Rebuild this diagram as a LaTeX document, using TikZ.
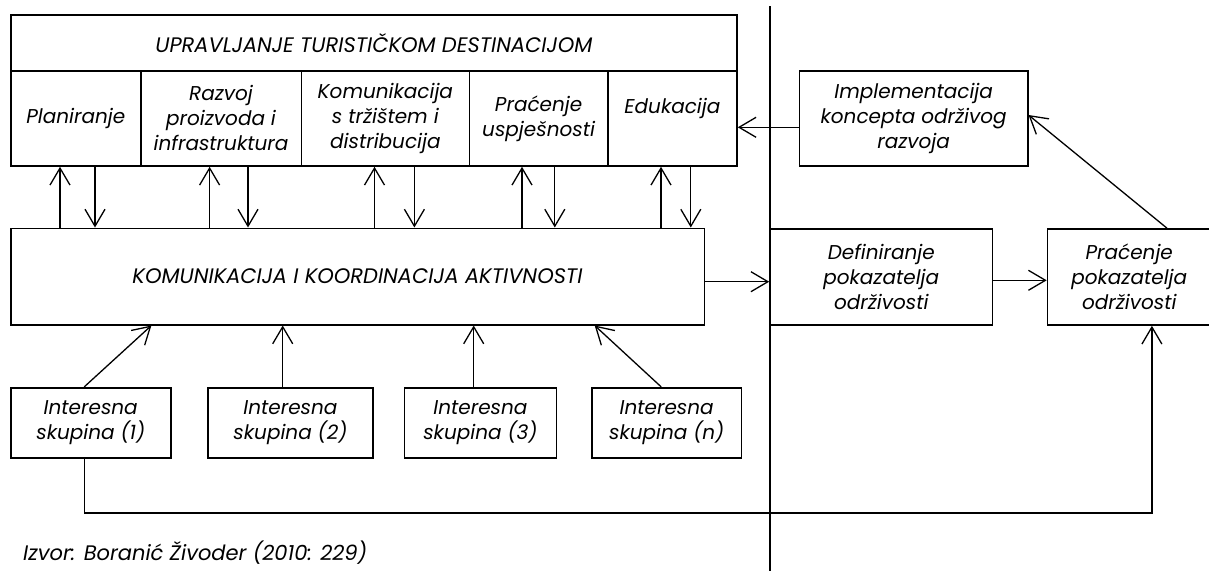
\documentclass[tikz,border=0pt]{standalone}
\usepackage{fontspec}
\setmainfont{Poppins}
\usetikzlibrary{arrows.meta}
\begin{document}
\begin{tikzpicture}[x=1pt,y=-1pt,
  txt/.style={font=\itshape\fontsize{20}{25}\selectfont},
  capstxt/.style={font=\itshape\fontsize{21}{25}\selectfont},
  box/.style={draw, line width=1.6pt, inner sep=0pt, align=center, txt},
  arr/.style={line width=1.3pt, -{Straight Barb[length=17pt,width=20pt,line width=1.3pt]}},
  rule/.style={line width=1.6pt}]
\useasboundingbox (0,0) rectangle (1209,570);
% top block
\node[box, capstxt, minimum width=726.3pt, minimum height=55.7pt] (title) at (373.85,42.85) {UPRAVLJANJE TURISTIČKOM DESTINACIJOM};
\node[box, minimum width=130.1pt, minimum height=95.3pt] (plan) at (75.75,118.35) {Planiranje};
\node[box, minimum width=160.5pt, minimum height=95.3pt] (razv) at (221.05,118.35) {Razvoj\\proizvoda i\\infrastruktura};
\node[box, minimum width=168.1pt, minimum height=95.3pt] (komt) at (385.35,118.35) {Komunikacija\\s tržištem i\\distribucija};
\node[box, minimum width=138.4pt, minimum height=95.3pt] (prac) at (538.6,118.35) {Praćenje\\uspješnosti};
\node[box, minimum width=129.2pt, minimum height=95.3pt] (edu) at (672.4,118.35) {Edukacija\\\mbox{}};
% middle
\node[box, capstxt, minimum width=693.6pt, minimum height=96.4pt] (mid) at (357.5,276.5) {KOMUNIKACIJA I KOORDINACIJA AKTIVNOSTI};
% right side
\node[box, minimum width=228.1pt, minimum height=95.3pt] (impl) at (913.65,118.35) {Implementacija\\koncepta održivog\\razvoja};
\node[box, minimum width=222.5pt, minimum height=96pt] (def) at (881.25,277) {Definiranje\\pokazatelja\\održivosti};
\node[box, minimum width=163.5pt, minimum height=96pt] (pracp) at (1129.25,277) {Praćenje\\pokazatelja\\održivosti};
% interest groups
\node[box, minimum width=160.1pt, minimum height=70.3pt] (is1) at (90.75,422.85) {Interesna\\skupina (1)};
\node[box, minimum width=164.9pt, minimum height=70.3pt] (is2) at (290.45,422.85) {Interesna\\skupina (2)};
\node[box, minimum width=151.8pt, minimum height=70.3pt] (is3) at (480.4,422.85) {Interesna\\skupina (3)};
\node[box, minimum width=149.4pt, minimum height=70.3pt] (isn) at (666.7,422.85) {Interesna\\skupina (n)};
% divider line
\coordinate (vtop) at (770,6);
\coordinate (vbot) at (770,575);
\draw[rule] (vtop) -- (vbot);
% arrows top <-> middle
\draw[arr] (mid.north -| 60,0) -- (plan.south -| 60,0);
\draw[arr] (plan.south -| 95,0) -- (mid.north -| 95,0);
\draw[arr] (mid.north -| 209.6,0) -- (razv.south -| 209.6,0);
\draw[arr] (razv.south -| 248,0) -- (mid.north -| 248,0);
\draw[arr] (mid.north -| 374.5,0) -- (komt.south -| 374.5,0);
\draw[arr] (komt.south -| 414.4,0) -- (mid.north -| 414.4,0);
\draw[arr] (mid.north -| 522,0) -- (prac.south -| 522,0);
\draw[arr] (prac.south -| 554.8,0) -- (mid.north -| 554.8,0);
\draw[arr] (mid.north -| 661,0) -- (edu.south -| 661,0);
\draw[arr] (edu.south -| 690.8,0) -- (mid.north -| 690.8,0);
% interest groups -> middle
\draw[arr] (is1.north -| 84.2,0) -- (mid.south -| 151.4,0);
\draw[arr] (is2.north -| 282.7,0) -- (mid.south -| 282.7,0);
\draw[arr] (is3.north -| 473.7,0) -- (mid.south -| 473.7,0);
\draw[arr] (isn.north -| 661.2,0) -- (mid.south -| 594.7,0);
% right flow
\draw[arr] (mid.east |- 0,281.7) -- (def.west |- 0,281.7);
\draw[arr] (def.east |- 0,280.3) -- (pracp.west |- 0,280.3);
\draw[arr] (pracp.north -| 1167,0) -- (impl.east |- 0,115);
\draw[arr] (impl.west |- 0,127.3) -- (edu.east |- 0,127.3);
% bottom feedback
\coordinate (bl) at (1151.9,513);
\draw[arr] (is1.south -| 84.2,0) |- (bl) -- (pracp.south -| bl);
% source
\node[capstxt, anchor=west, inner sep=0pt] (src) at (23,553) {Izvor: Boranić Živoder (2010: 229)};
\end{tikzpicture}
\end{document}
